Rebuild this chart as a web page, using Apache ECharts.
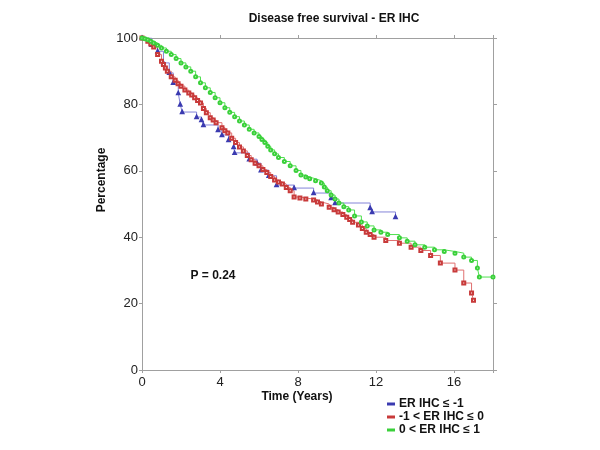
<!DOCTYPE html>
<html><head><meta charset="utf-8">
<script src="https://cdn.jsdelivr.net/npm/echarts@6/dist/echarts.min.js"></script>
<style>html,body{margin:0;padding:0;background:#fff}#c{width:600px;height:450px}</style>
</head><body><div id="c"></div>
<script>
var seriesNames = ['ER IHC \u2264 -1', '-1 < ER IHC \u2264 0', '0 < ER IHC \u2264 1'];
var xTicks = [0, 4, 8, 12, 16];
var yTicks = [0, 20, 40, 60, 80, 100];
var blueData = [[0,100],[0.5,98],[0.8,96],[1.1,92.5],[1.4,89.5],[1.6,86.5],[1.86,83.4],[1.96,80],[2.06,77.7],[2.8,76.2],[3.05,75.3],[3.15,73.8],[3.9,72.3],[4.1,70.8],[4.44,69.3],[4.7,67.2],[4.75,65.4],[5.5,63.5],[5.9,62.3],[6.1,60.2],[6.5,58.5],[6.9,55.7],[7.8,54.8],[8.8,53.3],[9.7,51.8],[9.9,50.3],[11.7,48.8],[11.8,47.6],[13.0,46.1]];
var redData = [[0,100],[0.3,99],[0.45,98.2],[0.6,97.3],[0.8,95],[1.0,93],[1.1,92],[1.2,91],[1.3,90],[1.5,88.3],[1.7,87.3],[1.85,86.2],[2.0,85.5],[2.2,84.3],[2.4,83.4],[2.55,82.8],[2.7,82],[2.85,81.2],[3.0,80.4],[3.15,78.8],[3.3,77.5],[3.5,76],[3.65,75.3],[3.8,74.5],[4.1,73],[4.25,72.1],[4.4,71.4],[4.6,69.8],[4.8,68.5],[5.0,67.2],[5.2,66],[5.4,64.6],[5.6,63.3],[5.8,62.3],[6.0,61.5],[6.2,60.4],[6.4,59.5],[6.6,58.3],[6.8,57.2],[7.0,56.6],[7.2,56],[7.4,55],[7.6,54],[7.8,52.1],[8.1,51.8],[8.4,51.5],[8.8,51.2],[9.0,50.6],[9.2,50],[9.6,49],[9.85,48.3],[10.06,47.6],[10.3,46.8],[10.5,46],[10.65,45.3],[10.8,44.5],[11.1,43.7],[11.3,42.6],[11.5,41.5],[11.7,40.8],[11.9,40],[12.5,39],[13.2,38.2],[13.8,37],[14.3,36],[14.8,34.5],[15.3,32.2],[16.05,30.1],[16.5,26.2],[16.9,23.2],[17.0,21]];
var greenData = [[0,100],[0.15,99.8],[0.3,99.5],[0.45,99],[0.6,98.5],[0.8,97.8],[1.0,97],[1.25,96],[1.5,95],[1.75,93.8],[2.0,92.5],[2.25,91.3],[2.5,90],[2.75,88.3],[3.0,86.5],[3.25,85],[3.5,83.6],[3.75,82],[4.0,80.5],[4.25,79],[4.5,77.6],[4.75,76.3],[5.0,75],[5.25,73.8],[5.5,72.5],[5.75,71.4],[6.0,70.3],[6.15,69.4],[6.3,68.5],[6.45,67.4],[6.6,66.3],[6.8,65.1],[7.0,64],[7.3,62.8],[7.6,61.5],[7.9,60.1],[8.15,58.7],[8.4,58.1],[8.6,57.6],[8.9,57],[9.2,56.3],[9.35,55.1],[9.5,54],[9.7,52.7],[9.9,51.5],[10.1,50.3],[10.35,49.2],[10.6,48.2],[10.9,46.4],[11.25,44.6],[11.55,43.4],[11.9,42.2],[12.25,41.5],[12.6,40.8],[13.2,39.8],[13.6,38.8],[14.0,37.7],[14.5,37],[15.0,36.2],[15.5,35.7],[16.05,35.2],[16.5,34],[16.9,33],[17.2,30.7],[17.3,28],[18.0,28]];
var pText = 'P = 0.24';

var chart = echarts.init(document.getElementById('c'), null, {renderer:'canvas'});
var axisCol = '#a0a0a0';
var font = 'Liberation Sans, Arial, sans-serif';
function ser(name, data, col, mcol, sym, sz){
  return {name:name, type:'line', step:'end', data:data, showSymbol:true, symbol:sym, symbolSize:sz,
    lineStyle:{color:col, width:1}, itemStyle:{color:mcol, borderColor:mcol, borderWidth:0.7},
    emphasis:{disabled:true}, animation:false, z:2};
}
chart.setOption({
  animation:false,
  grid:{left:142, right:107, top:38, bottom:80},
  xAxis:[{type:'value', min:0, max:18, interval:4, position:'bottom',
    axisLine:{onZero:false, lineStyle:{color:axisCol}}, axisTick:{show:true, length:3, lineStyle:{color:axisCol}},
    axisLabel:{color:'#222', fontSize:13, fontFamily:font, margin:6,
      formatter:function(v){return xTicks.indexOf(v)>=0 ? String(v) : '';}},
    splitLine:{show:false}},
   {type:'value', min:0, max:18, interval:4, position:'top',
    axisLine:{show:true, onZero:false, lineStyle:{color:axisCol}}, axisTick:{show:true, length:3, lineStyle:{color:axisCol}},
    axisLabel:{show:false}, splitLine:{show:false}}],
  yAxis:[{type:'value', min:0, max:100, interval:20, position:'left',
    axisLine:{show:true, onZero:false, lineStyle:{color:axisCol}}, axisTick:{show:true, length:3, lineStyle:{color:axisCol}},
    axisLabel:{color:'#222', fontSize:13, fontFamily:font, margin:4,
      formatter:function(v){return yTicks.indexOf(v)>=0 ? String(v) : '';}},
    splitLine:{show:false}},
   {type:'value', min:0, max:100, interval:20, position:'right',
    axisLine:{show:true, onZero:false, lineStyle:{color:axisCol}}, axisTick:{show:true, length:4, lineStyle:{color:axisCol}},
    axisLabel:{show:false}, splitLine:{show:false}}],
  legend:{orient:'vertical', left:382, top:393, itemWidth:6, itemHeight:1, itemGap:1,
    icon:'rect', textStyle:{fontSize:12, fontWeight:'bold', fontFamily:font, color:'#111'},
    data:seriesNames},
  series:[
    ser(seriesNames[0], blueData, '#8484d8', '#3a3ab0', 'emptyTriangle', 2.5),
    ser(seriesNames[1], redData, '#e07070', '#c83a3a', 'emptyRect', 3),
    ser(seriesNames[2], greenData, '#50e050', '#3ad03a', 'emptyCircle', 3)
  ],
  graphic:[
    {type:'text', x:334, y:19, style:{text:'Disease free survival - ER IHC', font:'bold 12px '+font, fill:'#111', textAlign:'center', textVerticalAlign:'middle'}},
    {type:'text', x:297, y:397, style:{text:'Time (Years)', font:'bold 12px '+font, fill:'#111', textAlign:'center', textVerticalAlign:'middle'}},
    {type:'text', x:102, y:180, rotation:Math.PI/2, style:{text:'Percentage', font:'bold 12px '+font, fill:'#111', textAlign:'center', textVerticalAlign:'middle'}},
    {type:'text', x:213, y:276, style:{text:pText, font:'bold 12px '+font, fill:'#111', textAlign:'center', textVerticalAlign:'middle'}}
  ]
});
</script></body></html>
